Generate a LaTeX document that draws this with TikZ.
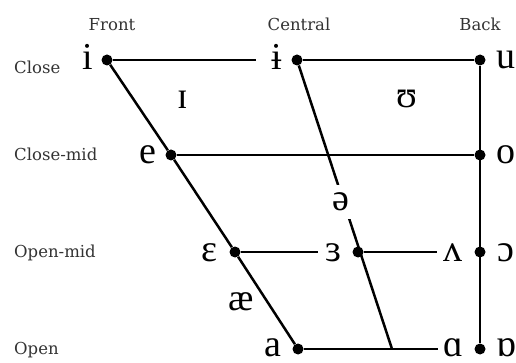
\documentclass[tikz,border=0pt]{standalone}
\usepackage{fontspec}
\setmainfont{DejaVu Serif}
\newfontfamily\ipafont{Liberation Serif}
\begin{document}
\begin{tikzpicture}[x=1pt,y=-1pt,
  dot/.style={circle,fill=black,inner sep=0pt,minimum size=11pt},
  vw/.style={font=\ipafont\fontsize{38}{38}\selectfont,inner sep=0pt,anchor=base},
  lab/.style={font=\fontsize{16.5}{18}\selectfont,text=black!80,inner sep=0pt},
  ln/.style={line width=2.5pt}]
\useasboundingbox (0,0) rectangle (516,363);
% dots
\node[dot] (di) at (107,60) {};
\node[dot] (dibar) at (297,60) {};
\node[dot] (du) at (480,60) {};
\node[dot] (de) at (171,155) {};
\node[dot] (do) at (480,155) {};
\node[dot] (deps) at (235,252) {};
\node[dot] (drev) at (358,252) {};
\node[dot] (dopen) at (480,252) {};
\node[dot] (da) at (298,349) {};
\node[dot] (dback) at (480,349) {};
\coordinate (cb) at (392,349);
% vowel symbols
\node[vw] (ti) at (88,70) {i};
\node[vw] (tibar) at (277,70) {ɨ};
\node[vw] (tu) at (506,69) {u};
\node[vw] (te) at (148,164) {e};
\node[vw] (to) at (506,164) {o};
\node[vw] (teps) at (209,261) {ɛ};
\node[vw] (trev) at (333,261) {ɜ};
\node[vw] (twedge) at (453,261) {ʌ};
\node[vw] (tturn) at (506,261) {ɔ};
\node[vw] (ta) at (273,356) {a};
\node[vw] (tscript) at (453,356) {ɑ};
\node[vw] (tturna) at (506,356) {ɒ};
\node[vw] (tsmi) at (183,109) {ɪ};
\node[vw] (tups) at (407,108) {ʊ};
\node[vw] (tae) at (241,310) {æ};
% labels
\node[lab,anchor=base] (lfront) at (112,31) {Front};
\node[lab,anchor=base] (lcentral) at (299,31) {Central};
\node[lab,anchor=base] (lback) at (480,31) {Back};
\node[lab,anchor=base west] (lclose) at (14,74) {Close};
\node[lab,anchor=base west] (lclosemid) at (14,161) {Close-mid};
\node[lab,anchor=base west] (lopenmid) at (14,258) {Open-mid};
\node[lab,anchor=base west] (lopen) at (14,354) {Open};
% lines
\draw[ln,shorten >=16pt] (di) -- (tibar.west |- di);
\draw[ln] (dibar) -- (du);
\draw[ln] (de) -- (do);
\draw[ln,shorten >=7pt] (deps) -- (trev.west |- deps);
\draw[ln,shorten >=6pt] (drev) -- (twedge.west |- drev);
\draw[ln,shorten >=5pt] (da) -- (tscript.west |- da);
\draw[ln] (du) -- (dback);
\draw[ln] (di) -- (de);
\draw[ln] (de) -- (deps);
\draw[ln] (deps) -- (da);
\draw[ln] (dibar) -- (cb);
\node[vw,fill=white,inner xsep=3pt,inner ysep=8pt] (tschwa) at (341,211) {ə};
\end{tikzpicture}
\end{document}
